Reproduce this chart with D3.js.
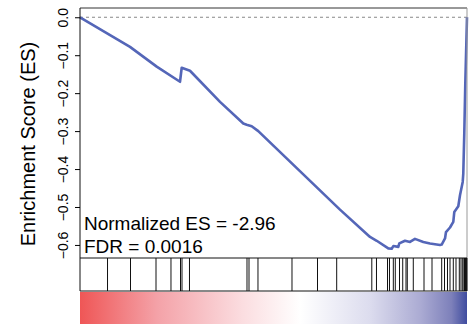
<!DOCTYPE html>
<html>
<head>
<meta charset="utf-8">
<script src="https://cdn.jsdelivr.net/npm/d3@7"></script>
<style>
  html, body { margin: 0; padding: 0; background: #fff; }
  svg { display: block; font-family: "Liberation Sans", Arial, Helvetica, sans-serif; }
</style>
</head>
<body>
<svg id="chart" width="474" height="324"></svg>
<script>
// Ranked gene list length
const totalGenes = 10000;

// Running enrichment score: gene rank and ES at that rank
const esRanks = [0, 1292, 1982, 2584, 2628, 2842, 3618, 4220, 4307, 4437, 4607, 6718, 7494, 7667,
  7966, 8054, 8096, 8225, 8251, 8398, 8527, 8656, 8871, 9044, 9302, 9346, 9432, 9457, 9561,
  9646, 9672, 9775, 9819, 9889, 9904, 9930, 9956, 10000];
const esValues = [0, -0.078, -0.130, -0.170, -0.133, -0.141, -0.223, -0.280, -0.283, -0.287, -0.300,
  -0.507, -0.579, -0.589, -0.609, -0.610, -0.603, -0.605, -0.596, -0.589, -0.592, -0.584, -0.592,
  -0.596, -0.600, -0.599, -0.583, -0.566, -0.554, -0.539, -0.513, -0.498, -0.469, -0.434, -0.412,
  -0.306, -0.174, 0];

// Ranks of gene-set members (barcode)
const hitRanks = [711, 1305, 1964, 2351, 2597, 2636, 2829, 4315, 4367, 4599, 5478, 6137, 6633,
  7540, 7661, 7946, 7997, 8096, 8147, 8256, 8339, 8424, 8457, 8612, 8889, 9096, 9346, 9419,
  9496, 9561, 9646, 9716, 9801, 9845, 9889, 9922, 9935, 9948, 9960, 9974, 9990];

// Y axis ticks
const esTicks = [0, -0.1, -0.2, -0.3, -0.4, -0.5, -0.6];

// Statistics shown in the panel
const statLines = ["Normalized ES = -2.96", "FDR = 0.0016"];

// Ranked-metric colour ramp (positive -> negative)
const rampStops = [
  { offset: 0.00, color: "#ef5656" },
  { offset: 0.20, color: "#f4a2a8" },
  { offset: 0.42, color: "#fbdde0" },
  { offset: 0.57, color: "#ffffff" },
  { offset: 0.75, color: "#dcdcee" },
  { offset: 0.88, color: "#ababd3" },
  { offset: 0.96, color: "#7d80ba" },
  { offset: 1.00, color: "#3f4c9f" }
];

const svg = d3.select("#chart");
const left = 80, right = 467;
const esTop = 8, esBottom = 258;
const barTop = 258, barBottom = 291;
const rampTop = 292, rampBottom = 324;

const x = d3.scaleLinear().domain([0, totalGenes]).range([left, right]);
const yMin = -0.61, yMax = 0, pad = (yMax - yMin) * 0.04;
const y = d3.scaleLinear().domain([yMin - pad, yMax + pad]).range([esBottom, esTop]);

// Colour ramp
const defs = svg.append("defs");
const grad = defs.append("linearGradient").attr("id", "ramp")
  .attr("x1", "0%").attr("x2", "100%").attr("y1", "0%").attr("y2", "0%");
grad.selectAll("stop").data(rampStops).join("stop")
  .attr("offset", d => d.offset).attr("stop-color", d => d.color);
svg.append("rect")
  .attr("x", left).attr("y", rampTop)
  .attr("width", right - left).attr("height", rampBottom - rampTop)
  .attr("fill", "url(#ramp)");

// Zero reference line
svg.append("line")
  .attr("x1", left).attr("x2", right)
  .attr("y1", y(0)).attr("y2", y(0))
  .attr("stroke", "#888").attr("stroke-width", 1)
  .attr("stroke-dasharray", "3,3");

// Running ES curve
const pts = esRanks.map((r, i) => [r, esValues[i]]);
svg.append("path")
  .datum(pts)
  .attr("fill", "none")
  .attr("stroke", "#5466b8")
  .attr("stroke-width", 2.6)
  .attr("stroke-linejoin", "round")
  .attr("d", d3.line().x(d => x(d[0])).y(d => y(d[1])));

// Barcode of gene-set members
svg.append("g").selectAll("line").data(hitRanks).join("line")
  .attr("x1", d => x(d)).attr("x2", d => x(d))
  .attr("y1", barTop).attr("y2", barBottom)
  .attr("stroke", "#111").attr("stroke-width", 1);

// Panel frames
const frame = svg.append("g").attr("fill", "none").attr("stroke-width", 1);
frame.append("line").attr("x1", left).attr("x2", right).attr("y1", esTop).attr("y2", esTop).attr("stroke", "#333");
frame.append("line").attr("x1", right).attr("x2", right).attr("y1", esTop).attr("y2", esBottom).attr("stroke", "#999");
frame.append("line").attr("x1", left).attr("x2", left).attr("y1", esTop).attr("y2", barBottom).attr("stroke", "#111");
frame.append("line").attr("x1", left).attr("x2", right).attr("y1", barTop).attr("y2", barTop).attr("stroke", "#111");
frame.append("line").attr("x1", left).attr("x2", right).attr("y1", barBottom).attr("y2", barBottom).attr("stroke", "#111");
frame.append("line").attr("x1", right).attr("x2", right).attr("y1", barTop).attr("y2", barBottom).attr("stroke", "#111");

// Y axis with rotated labels
const yAxis = svg.append("g")
  .attr("transform", `translate(${left},0)`)
  .call(d3.axisLeft(y).tickValues(esTicks).tickSize(5).tickFormat(d3.format(".1f")));
yAxis.select(".domain").remove();
yAxis.selectAll(".tick line").attr("stroke", "#000");
yAxis.selectAll(".tick text")
  .attr("transform", "rotate(-90)")
  .attr("x", 0).attr("y", -12).attr("dy", null)
  .attr("text-anchor", "middle")
  .attr("fill", "#000")
  .style("font-size", "14px")
  .style("font-family", "'Liberation Sans', Arial, sans-serif");

// Axis title
svg.append("text")
  .attr("transform", "translate(35,144) rotate(-90)")
  .attr("text-anchor", "middle")
  .style("font-size", "20px")
  .attr("fill", "#000")
  .text("Enrichment Score (ES)");

// Statistics
svg.append("g").selectAll("text").data(statLines).join("text")
  .attr("x", 84)
  .attr("y", (d, i) => 230 + i * 23)
  .style("font-size", "19px")
  .attr("fill", "#000")
  .text(d => d);
</script>
</body>
</html>
